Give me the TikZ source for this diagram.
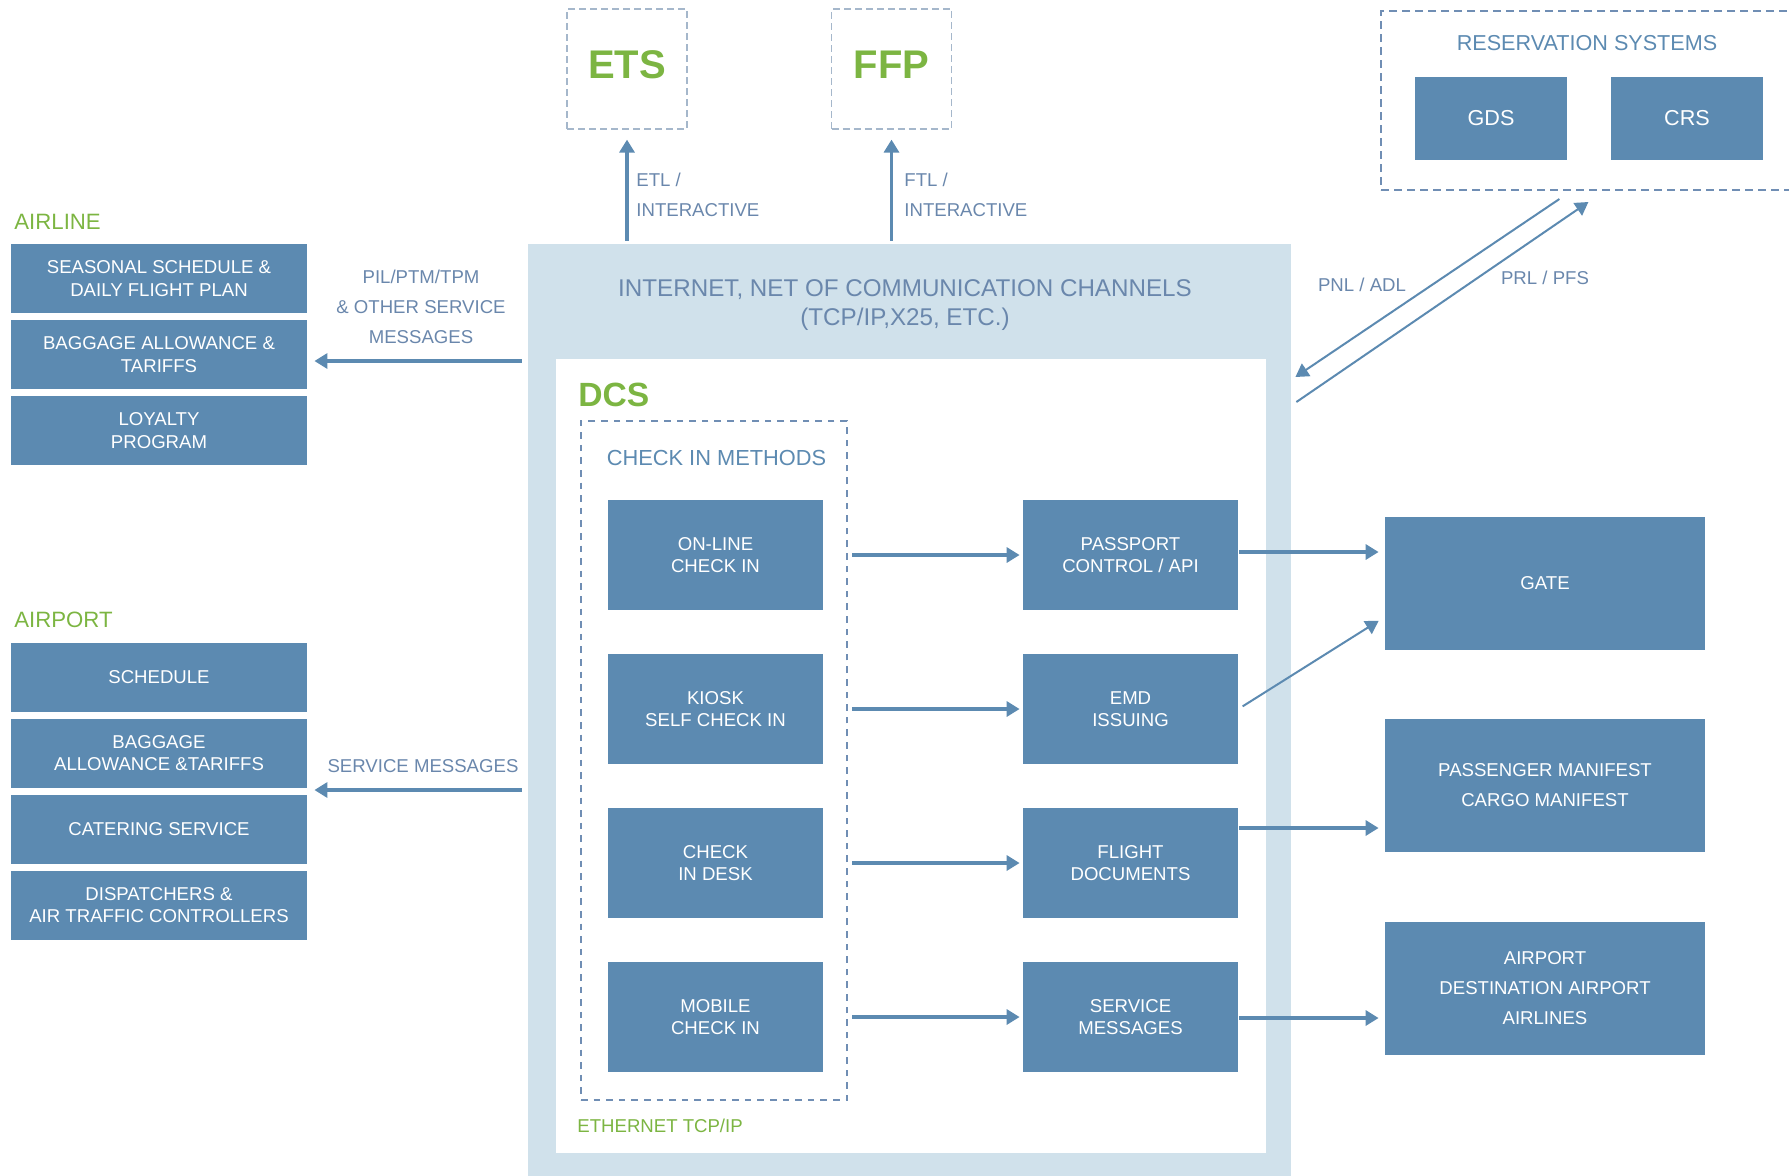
\documentclass[tikz,border=0pt]{standalone}
\usepackage{fontspec}
\setmainfont{Liberation Sans}
\usetikzlibrary{arrows.meta,calc}
\definecolor{boxblue}{RGB}{92,138,177}
\definecolor{panelblue}{RGB}{208,225,235}
\definecolor{leafgreen}{RGB}{124,181,66}
\definecolor{slate}{RGB}{106,135,172}
\definecolor{dashblue}{RGB}{112,142,180}
\definecolor{paledash}{RGB}{165,183,203}

\begin{document}
\begin{tikzpicture}[x=0.5pt,y=-0.5pt,
    box/.style={fill=boxblue,text=white,inner sep=0pt,align=center,font=\fontsize{9.3}{11.2}\selectfont},
    cibox/.style={box,minimum width=107.5pt,minimum height=55pt},
    sidebox/.style={box,minimum width=148pt,minimum height=34.5pt},
    outbox/.style={box,minimum width=160pt,minimum height=66.5pt,font=\fontsize{9.3}{15}\selectfont},
    resbox/.style={box,minimum width=76pt,minimum height=41.5pt,font=\fontsize{10.8}{13}\selectfont},
    etsbox/.style={draw=paledash,line width=0.6pt,dash pattern=on 3.5pt off 2pt,minimum size=60pt,inner sep=0pt,
        text=leafgreen,font=\bfseries\fontsize{20}{24}\selectfont,text height=14.3pt,text depth=5pt},
    note/.style={text=slate,align=center,inner sep=0pt,font=\fontsize{9.3}{15}\selectfont},
    heading/.style={text=leafgreen,anchor=west,inner sep=0pt,font=\fontsize{11.1}{13}\selectfont},
    arr/.style={draw=boxblue,line width=1.6pt,-{Triangle[length=6.5pt,width=7.5pt]}},
    thinarr/.style={arr,line width=1pt}]
    \useasboundingbox (0,0) rectangle (1789,1175);

    \node[fill=panelblue,minimum width=381.5pt,minimum height=466pt,inner sep=0pt] (net) at (909.5,710) {};
    \node[text=slate,align=center,inner sep=0pt,font=\fontsize{12.1}{14.5}\selectfont] (netlbl) at (905,305)
        {INTERNET, NET OF COMMUNICATION CHANNELS\\(TCP/IP,X25, ETC.)};
    \node[fill=white,minimum width=355pt,minimum height=397pt,inner sep=0pt] (dcs) at (911,756) {};
    \node[text=leafgreen,anchor=west,inner sep=0pt,font=\bfseries\fontsize{16.8}{20}\selectfont] (dcslbl) at (578,395) {DCS};
    \node[draw=dashblue,line width=1.1pt,dash pattern=on 3.3pt off 3pt,minimum width=133pt,minimum height=339.5pt,inner sep=0pt] (methods) at (714,760.5) {};
    \node[text=boxblue,inner sep=0pt,font=\fontsize{10.9}{13}\selectfont] (methlbl) at (716.5,458) {CHECK IN METHODS};
    \node[text=leafgreen,anchor=west,inner sep=0pt,font=\fontsize{9.3}{11}\selectfont] (eth) at (577,1126) {ETHERNET TCP/IP};

    \foreach \name/\txt [count=\i] in {online/{ON-LINE\\CHECK IN}, kiosk/{KIOSK\\SELF CHECK IN}, desk/{CHECK\\IN DESK}, mobile/{MOBILE\\CHECK IN}}
        \node[cibox] (\name) at (715.5,401+154*\i) {\txt};
    \foreach \name/\txt [count=\i] in {pass/{PASSPORT\\CONTROL / API}, emd/{EMD\\ISSUING}, flight/{FLIGHT\\DOCUMENTS}, svc/{SERVICE\\MESSAGES}}
        \node[cibox] (\name) at (1130.5,401+154*\i) {\txt};
    \foreach \a/\b in {online/pass, kiosk/emd, desk/flight, mobile/svc}
        \draw[arr,shorten <=14.5pt,shorten >=1.5pt] (\a) -- (\b);

    \node[outbox] (gate) at (1545,583.5) {GATE};
    \node[outbox] (manifest) at (1545,785.5) {PASSENGER MANIFEST\\CARGO MANIFEST};
    \node[outbox] (dest) at (1545,988.5) {AIRPORT\\DESTINATION AIRPORT\\AIRLINES};
    \draw[arr,shorten <=0.5pt,shorten >=3pt] (pass.east |- 0,552) -- (gate.west |- 0,552);
    \draw[thinarr,shorten <=2.5pt,shorten >=3.5pt] (emd.east) -- (gate.west |- 0,617);
    \draw[arr,shorten <=0.5pt,shorten >=3pt] (flight.east |- 0,828) -- (manifest.west |- 0,828);
    \draw[arr,shorten <=0.5pt,shorten >=3pt] (svc.east |- 0,1018) -- (dest.west |- 0,1018);

    \node[heading] (airline) at (14,222) {AIRLINE};
    \foreach \name/\txt [count=\i] in {season/{SEASONAL SCHEDULE \&\\DAILY FLIGHT PLAN}, bagA/{BAGGAGE ALLOWANCE \&\\TARIFFS}, loyal/{LOYALTY\\PROGRAM}}
        \node[sidebox] (\name) at (159,202.5+76*\i) {\txt};
    \node[heading] (airport) at (14,620) {AIRPORT};
    \foreach \name/\txt [count=\i] in {sched/{SCHEDULE}, bagB/{BAGGAGE\\ALLOWANCE \&TARIFFS}, cater/{CATERING SERVICE}, disp/{DISPATCHERS \&\\AIR TRAFFIC CONTROLLERS}}
        \node[sidebox] (\name) at (159,601+76*\i) {\txt};
    \node[note] (pillbl) at (421,307) {PIL/PTM/TPM\\\& OTHER SERVICE\\MESSAGES};
    \node[note] (svclbl) at (423,766) {SERVICE MESSAGES};
    \draw[arr,shorten <=3pt,shorten >=3.5pt] (net.west |- 0,361) -- (bagA.east |- 0,361);
    \draw[arr,shorten <=3pt,shorten >=3.5pt] (net.west |- 0,790) -- (bagB.east |- 0,790);

    \node[etsbox] (ets) at (627,69) {ETS};
    \node[etsbox] (ffp) at (891.5,69) {FFP};
    \draw[arr,shorten <=1.5pt,shorten >=5pt] (net.north -| ets) -- (ets);
    \draw[arr,shorten <=1.5pt,shorten >=5pt] (net.north -| ffp) -- (ffp);
    \node[note,anchor=west,align=left] (etl) at (636,195) {ETL /\\INTERACTIVE};
    \node[note,anchor=west,align=left] (ftl) at (904,195) {FTL /\\INTERACTIVE};

    \node[draw=dashblue,line width=1pt,dash pattern=on 4pt off 2.5pt,minimum width=209.5pt,minimum height=89.5pt,inner sep=0pt] (res) at (1590.5,100.5) {};
    \node[text=boxblue,inner sep=0pt,font=\fontsize{10.8}{13}\selectfont] (reslbl) at (1587,43) {RESERVATION SYSTEMS};
    \node[resbox] (gds) at (1491,118.5) {GDS};
    \node[resbox] (crs) at (1687,118.5) {CRS};
    \draw[thinarr] ($(res.south -| gds.east)+(-8,8)$) -- ($(net.east |- 0,377)+(4,0)$);
    \draw[thinarr] ($(net.east |- 0,402)+(5,0)$) -- ($(res.south -| gds.east)+(21,11)$);
    \node[note] (pnl) at (1362,285) {PNL / ADL};
    \node[note] (prl) at (1545,278) {PRL / PFS};
\end{tikzpicture}
\end{document}
